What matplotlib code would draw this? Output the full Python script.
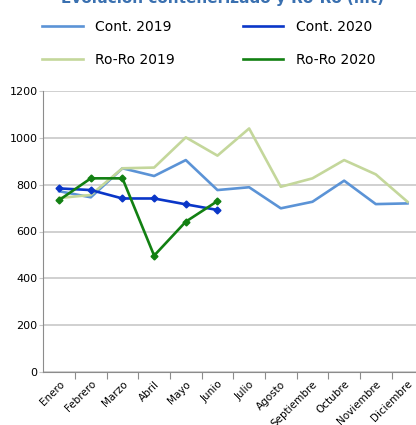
import matplotlib.pyplot as plt
import numpy as np

meses = ["Enero", "Febrero", "Marzo", "Abril", "Mayo", "Junio", "Julio",
         "Agosto", "Septiembre", "Octubre", "Noviembre", "Diciembre"]

cont_2019 = [772, 746, 870, 837, 905, 777, 789, 699, 727, 817, 717, 720]
roro_2019 = [743, 756, 870, 873, 1002, 924, 1040, 791, 827, 905, 844, 727]
cont_2020 = [784, 777, 741, 741, 716, 692]
roro_2020 = [734, 827, 827, 497, 642, 730]

fig = plt.figure(figsize=(4.16, 4.25), dpi=100)
ax = fig.add_axes([43.3 / 416, 1 - 372 / 425, 380 / 416, 281 / 425])

x = np.arange(len(meses))
ax.plot(x, cont_2019, color="#5B93D6", lw=1.9, label="Cont. 2019", zorder=3)
ax.plot(x, roro_2019, color="#C4D79B", lw=1.9, label="Ro-Ro 2019", zorder=3)
ax.plot(x[:len(cont_2020)], cont_2020, color="#0A36C8", lw=1.9, marker="D",
        ms=3.5, label="Cont. 2020", zorder=4)
ax.plot(x[:len(roro_2020)], roro_2020, color="#128012", lw=1.9, marker="D",
        ms=3.5, label="Ro-Ro 2020", zorder=5)

ax.set_xlim(-0.5, 11.5)
ax.set_ylim(0, 1200)
ax.set_yticks(range(0, 1201, 200))
ax.yaxis.grid(True, color="#C8C8C8", lw=1.2)
ax.set_axisbelow(True)
for s in ["top", "right"]:
    ax.spines[s].set_visible(False)
ax.spines["left"].set_color("#8C8C8C")
ax.spines["bottom"].set_color("#8C8C8C")
ax.tick_params(axis="y", length=3, color="#C8C8C8", labelsize=8, pad=1)

# marcas entre categorias, etiquetas en el centro
ax.set_xticks(np.arange(0.5, 11.5, 1))
ax.set_xticklabels([])
ax.tick_params(axis="x", which="major", length=5, color="#8C8C8C")
ax.set_xticks(x, minor=True)
ax.set_xticklabels(meses, minor=True, rotation=45, ha="right",
                   rotation_mode="anchor", fontsize=7.5)
ax.tick_params(axis="x", which="minor", length=0, pad=5)

fig.text(0.535, 0.993, "Evolución contenerizado y Ro-Ro (mt)", ha="center",
         va="baseline", fontsize=11, fontweight="bold", color="#3A70B0")

handles, labels = ax.get_legend_handles_labels()
leg = fig.legend([plt.Line2D([], [], color=h.get_color(), lw=1.9) for h in handles],
                 labels, ncol=2, loc="upper left",
                 bbox_to_anchor=(0.072, 0.983), frameon=False, fontsize=10,
                 handlelength=2.9, columnspacing=4.9, labelspacing=1.4,
                 handletextpad=0.9)

fig.savefig("out.png", dpi=100)
